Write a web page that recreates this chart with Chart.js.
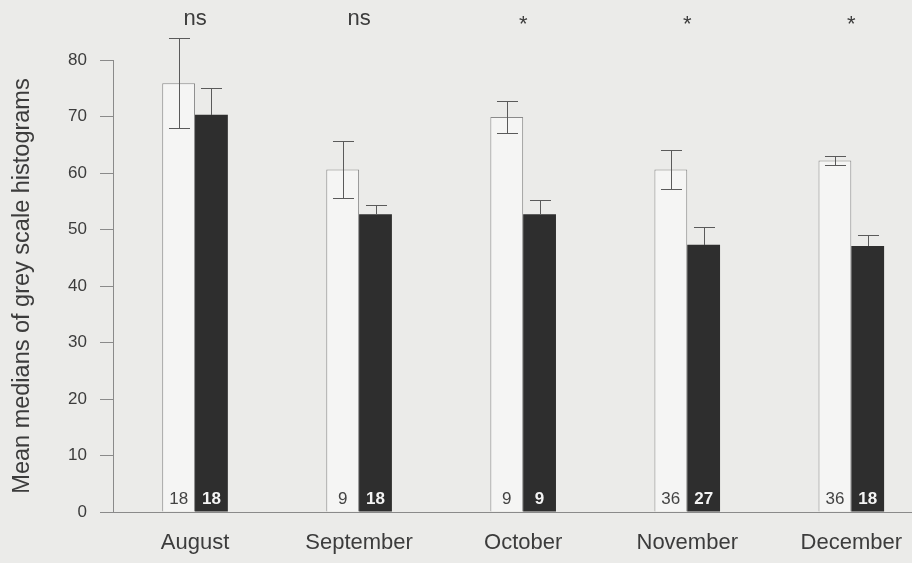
<!DOCTYPE html>
<html>
<head>
<meta charset="utf-8">
<script src="https://cdn.jsdelivr.net/npm/chart.js@4"></script>
<style>
  html, body { margin: 0; padding: 0; background: #ebebe9; overflow: hidden; }
  #wrap { width: 912px; height: 563px; }
</style>
</head>
<body>
<div id="wrap"><canvas id="chart" width="912" height="563"></canvas></div>
<script>
// ---- Data ----
const months = ["August", "September", "October", "November", "December"];
const whiteMeans = [75.9, 60.6, 69.9, 60.6, 62.2];
const whiteErr = [8.0, 5.0, 2.8, 3.5, 0.8];
const darkMeans = [70.3, 52.7, 52.7, 47.3, 47.1];
const darkErr = [4.8, 1.7, 2.5, 3.1, 2.0];
const whiteN = [18, 9, 9, 36, 36];
const darkN = [18, 18, 9, 27, 18];
const signif = ["ns", "ns", "*", "*", "*"];
const yTicks = [0, 10, 20, 30, 40, 50, 60, 70, 80];

const FONT = "'Liberation Sans', Arial, sans-serif";
const TEXT = "#3c3c3c";

const toPoints = (arr) => arr.map((v, i) => ({ x: i, y: v }));

// paper background
const paperBg = {
	id: "paperBg",
	beforeDraw(chart) {
		const { ctx, width, height } = chart;
		ctx.save();
		ctx.fillStyle = "#ebebe9";
		ctx.fillRect(0, 0, width, height);
		ctx.restore();
	},
};

// error bars, counts and significance marks
const extras = {
	id: "extras",
	afterDatasetsDraw(chart) {
		const { ctx } = chart;
		const y = chart.scales.y;
		const errs = [whiteErr, darkErr];
		const means = [whiteMeans, darkMeans];
		ctx.save();
		ctx.strokeStyle = "#5a5a5a";
		ctx.lineWidth = 1;
		for (let d = 0; d < 2; d++) {
			const meta = chart.getDatasetMeta(d);
			meta.data.forEach((bar, i) => {
				const cx = Math.round(bar.x) + 0.5;
				const half = bar.width * 0.32;
				const top = Math.round(y.getPixelForValue(means[d][i] + errs[d][i])) + 0.5;
				const bot = d === 0
					? Math.round(y.getPixelForValue(means[d][i] - errs[d][i])) + 0.5
					: Math.round(y.getPixelForValue(means[d][i]));
				ctx.beginPath();
				ctx.moveTo(cx, top);
				ctx.lineTo(cx, bot);
				ctx.moveTo(cx - half, top);
				ctx.lineTo(cx + half, top);
				if (d === 0) {
					ctx.moveTo(cx - half, bot);
					ctx.lineTo(cx + half, bot);
				}
				ctx.stroke();
			});
		}
		// counts inside bars
		const base = y.getPixelForValue(0);
		ctx.textAlign = "center";
		ctx.textBaseline = "middle";
		chart.getDatasetMeta(0).data.forEach((bar, i) => {
			ctx.font = `17px ${FONT}`;
			ctx.fillStyle = "#444";
			ctx.fillText(String(whiteN[i]), bar.x, base - 13);
		});
		chart.getDatasetMeta(1).data.forEach((bar, i) => {
			ctx.font = `bold 17px ${FONT}`;
			ctx.fillStyle = "#f4f4f4";
			ctx.fillText(String(darkN[i]), bar.x, base - 13);
		});
		// significance
		const m0 = chart.getDatasetMeta(0).data;
		const m1 = chart.getDatasetMeta(1).data;
		ctx.textBaseline = "alphabetic";
		ctx.fillStyle = TEXT;
		ctx.font = `22px ${FONT}`;
		signif.forEach((s, i) => {
			const cx = (m0[i].x + m0[i].width / 2 + m1[i].x - m1[i].width / 2) / 2;
			ctx.fillText(s, cx, s === "*" ? 31 : 25);
		});
		ctx.restore();
	},
};

new Chart(document.getElementById("chart"), {
	type: "bar",
	data: {
		datasets: [
			{
				label: "white",
				data: toPoints(whiteMeans),
				backgroundColor: "#f5f5f4",
				borderColor: "#8a8a8a",
				borderWidth: { top: 1, left: 1, right: 1, bottom: 0 },
				borderSkipped: false,
				barPercentage: 1,
				categoryPercentage: 0.4,
			},
			{
				label: "dark",
				data: toPoints(darkMeans),
				backgroundColor: "#2e2e2e",
				borderWidth: 0,
				barPercentage: 1,
				categoryPercentage: 0.4,
			},
		],
	},
	options: {
		responsive: false,
		animation: false,
		layout: { padding: { top: 60, right: 0, left: 0, bottom: 0 } },
		plugins: {
			legend: { display: false },
			tooltip: { enabled: false },
		},
		scales: {
			x: {
				type: "linear",
				offset: false,
				min: -0.5,
				max: 4.37,
				afterBuildTicks: (scale) => {
					scale.ticks = months.map((m, i) => ({ value: i }));
				},
				afterFit: (scale) => {
					scale.height = 51;
					scale.paddingLeft = 0;
					scale.paddingRight = 0;
				},
				grid: { display: true, drawOnChartArea: false, drawTicks: false },
				border: { display: true, color: "#8a8a8a", width: 1 },
				ticks: {
					padding: 18,
					color: TEXT,
					font: { family: FONT, size: 22 },
					callback: (v) => months[v] ?? "",
					maxRotation: 0,
					autoSkip: false,
				},
			},
			y: {
				min: 0,
				max: 80,
				afterBuildTicks: (scale) => {
					scale.ticks = yTicks.map((v) => ({ value: v }));
				},
				afterFit: (scale) => {
					scale.width = 113;
				},
				grid: {
					drawOnChartArea: false,
					drawTicks: true,
					tickLength: 13,
					color: "#8a8a8a",
				},
				border: { display: true, color: "#8a8a8a", width: 1 },
				ticks: {
					padding: 13,
					color: TEXT,
					font: { family: FONT, size: 17 },
				},
				title: {
					display: true,
					text: "Mean medians of grey scale histograms",
					color: TEXT,
					font: { family: FONT, size: 23.5 },
					padding: { top: 8, bottom: 0 },
				},
			},
		},
	},
	plugins: [paperBg, extras],
});
</script>
</body>
</html>
